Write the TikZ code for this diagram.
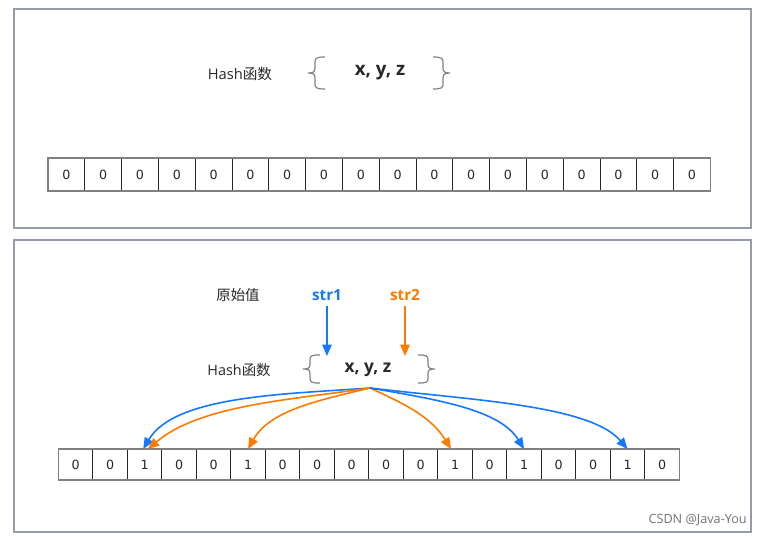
\documentclass[tikz,border=0pt]{standalone}
\usepackage{fontspec}
\setmainfont{Open Sans}
\newfontfamily\cjk{Noto Sans CJK SC}
\newfontfamily\dv{DejaVu Sans}
\usetikzlibrary{arrows.meta}
\definecolor{myblue}{RGB}{22,119,255}
\definecolor{myorange}{RGB}{255,122,0}
\definecolor{panelcol}{RGB}{150,155,168}
\definecolor{txt}{RGB}{40,40,40}
\definecolor{bracecol}{RGB}{130,130,130}
\tikzset{
  panelbox/.style={draw=panelcol,line width=0.9pt},
  tcell/.style={draw=black!85,line width=0.6pt,inner sep=0pt,outer sep=0pt,
    minimum width=27.6pt,minimum height=24.75pt,font=\dv\fontsize{9.5}{10}\selectfont,text=txt},
  bcell/.style={draw=black!85,line width=0.6pt,inner sep=0pt,outer sep=0pt,
    minimum width=25.875pt,minimum height=23.25pt,font=\dv\fontsize{9.5}{10}\selectfont,text=txt},
  lbl/.style={inner sep=0pt,text=txt},
  xyz/.style={inner sep=0pt,text=txt},
  lbrace/.pic={\draw[bracecol,line width=0.9pt]
     (12,-16) .. controls (4,-16) and (2,-15) .. (2,-11) -- (2,-5)
     .. controls (2,-1) and (0,0) .. (-5,0)
     .. controls (0,0) and (2,1) .. (2,5) -- (2,11)
     .. controls (2,15) and (4,16) .. (12,16);},
  arr/.style={line width=1.2pt,-{Triangle[length=8.5pt,width=7pt]}},
}
\begin{document}
\begin{tikzpicture}[x=0.75pt,y=-0.75pt]
\useasboundingbox (0,0) rectangle (761,536);
\fill[white] (0,0) rectangle (761,536);
% panels
\draw[panelbox] (14,9) rectangle (751,228);
\draw[panelbox] (14,240) rectangle (751,532);

% ---- top panel
\node[lbl,font=\fontsize{11}{13}\selectfont] (h1) at (240,74) {Hash{\cjk 函数}};
\pic at (313,73) {lbrace};
\pic[xscale=-1] at (445,73) {lbrace};
\node[xyz,font=\bfseries\fontsize{14}{16}\selectfont] (f1) at (380,73) {x, y, z};
\foreach \i in {1,...,18}{
  \node[tcell] (t\i) at ({48+36.8*(\i-0.5)},174.6) {0};
}
\draw[gray,line width=1pt] (t1.north west) rectangle (t18.south east);

% ---- bottom panel
\node[lbl,font=\cjk\fontsize{10.8}{13}\selectfont] (yv) at (238,295) {原始值};
\node[lbl,font=\bfseries\fontsize{11.5}{13}\selectfont,text=myblue] (s1) at (327,295) {str1};
\node[lbl,font=\bfseries\fontsize{11.5}{13}\selectfont,text=myorange] (s2) at (405,295) {str2};
\node[lbl,font=\fontsize{10.8}{13}\selectfont] (h2) at (239,370) {Hash{\cjk 函数}};
\pic[yscale=0.88] at (308,369) {lbrace};
\pic[xscale=-1,yscale=0.88] at (430,369) {lbrace};
\node[xyz,font=\bfseries\fontsize{13}{15}\selectfont] (f2) at (368,370) {x, y, z};
\coordinate (s1b) at (327,306);
\coordinate (s2b) at (405,306);
\coordinate (a1) at (327,356);
\coordinate (a2) at (405,356);
\draw[arr,myblue] (s1b) -- (a1);
\draw[arr,myorange] (s2b) -- (a2);

\foreach \i/\v in {1/0,2/0,3/1,4/0,5/0,6/1,7/0,8/0,9/0,10/0,11/0,12/1,13/0,14/1,15/0,16/0,17/1,18/0}{
  \node[bcell] (b\i) at ({58.3+34.5*(\i-0.5)},464.6) {\v};
}
\draw[gray,line width=1pt] (b1.north west) rectangle (b18.south east);

\coordinate (src) at (370,388);
\draw[arr,myblue] (src) .. controls (290,394) and (175,395) .. ([xshift=-1pt]b3.north);
\draw[arr,myorange] (src) .. controls (290,400) and (200,405) .. ([xshift=2.5pt]b3.north);
\draw[arr,myorange] (src) .. controls (320,400) and (270,410) .. (b6.north);
\draw[arr,myorange] (src) .. controls (400,402) and (430,415) .. ([xshift=-3pt]b12.north);
\draw[arr,myblue] (src) .. controls (440,400) and (500,410) .. (b14.north);
\draw[arr,myblue] (src) .. controls (470,400) and (590,405) .. (b17.north);

% watermark
\node[anchor=east,inner sep=0pt,text=black!55,font=\fontsize{9.5}{11}\selectfont] (wm) at (747,520) {CSDN @Java-You};
\end{tikzpicture}
\end{document}
